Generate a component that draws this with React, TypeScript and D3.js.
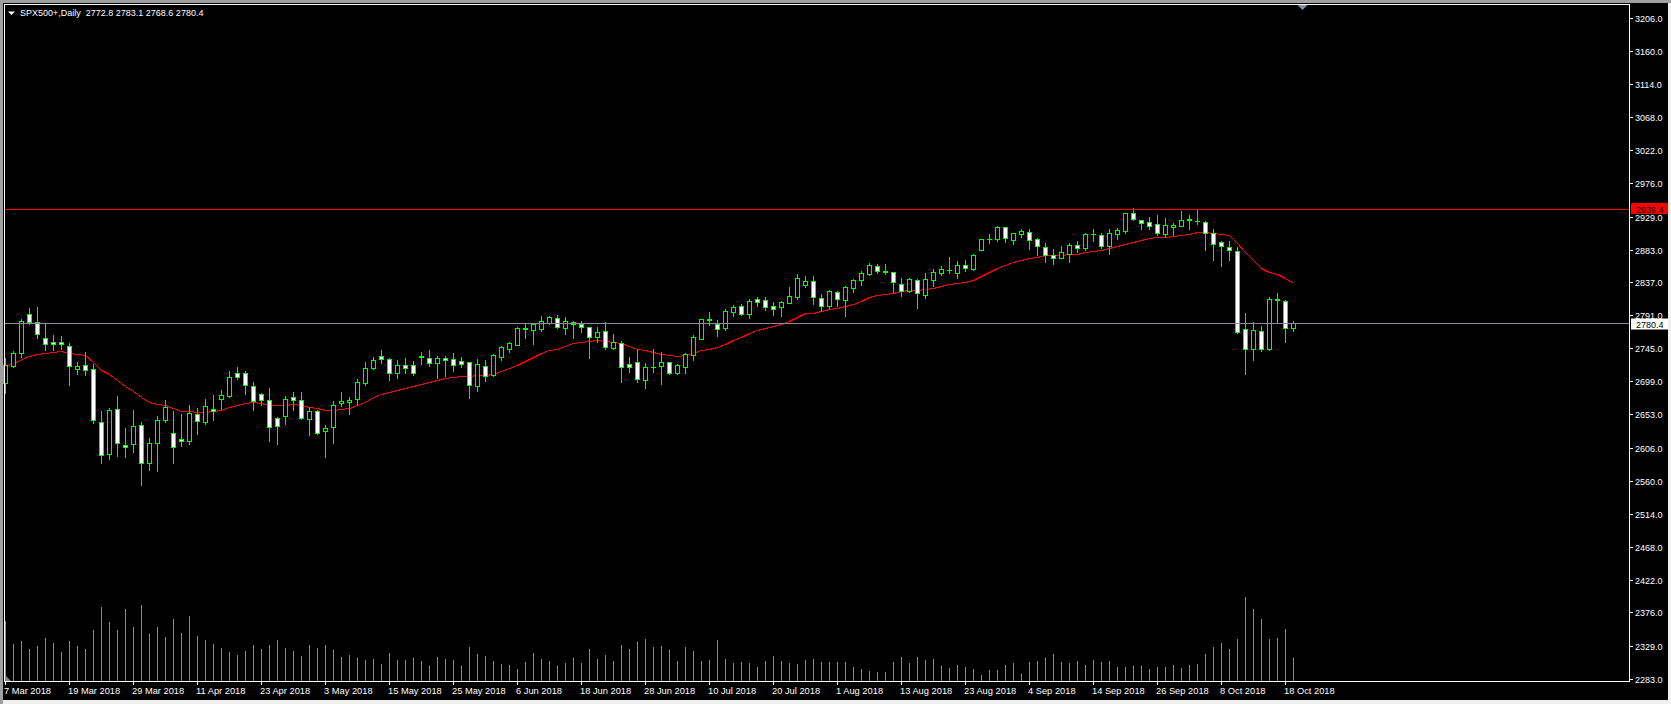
import * as d3 from "d3"

// SPX500+ daily bars, 7 Mar 2018 .. 19 Oct 2018 (one entry per trading day)
const opens = [
  2696.1, 2720.3, 2738.0, 2792.5, 2781.3, 2758.9, 2753.8, 2753.8, 2747.8, 2716.6,
  2721.2, 2715.6, 2641.6, 2596.9, 2659.7, 2609.9, 2610.8, 2637.4, 2584.3, 2612.2,
  2645.3, 2626.2, 2617.8, 2616.0, 2652.7, 2642.5, 2659.7, 2674.6, 2678.8, 2710.0,
  2710.0, 2692.8, 2680.7, 2672.3, 2647.2, 2650.9, 2676.5, 2672.3, 2646.7, 2657.0,
  2629.0, 2634.6, 2668.1, 2669.5, 2673.7, 2697.0, 2717.5, 2733.8, 2730.1, 2709.8,
  2721.2, 2721.2, 2734.0, 2731.0, 2724.9, 2731.0, 2729.6, 2726.8, 2725.4, 2692.3,
  2719.8, 2707.2, 2732.3, 2744.5, 2750.0, 2773.5, 2770.5, 2772.4, 2780.8, 2786.8,
  2773.8, 2781.7, 2778.4, 2774.3, 2760.8, 2768.7, 2745.9, 2751.9, 2723.0, 2725.4,
  2701.1, 2718.6, 2720.7, 2725.4, 2710.9, 2719.3, 2735.6, 2758.4, 2785.4, 2779.0,
  2773.8, 2795.7, 2803.6, 2793.4, 2813.4, 2811.8, 2803.8, 2802.7, 2808.7, 2817.1,
  2833.9, 2838.5, 2814.8, 2804.5, 2823.2, 2812.4, 2829.7, 2840.4, 2849.2, 2859.5,
  2852.5, 2851.1, 2834.3, 2825.0, 2839.9, 2819.9, 2840.4, 2850.6, 2854.0, 2850.6,
  2860.9, 2855.8, 2882.8, 2898.0, 2897.7, 2914.0, 2896.3, 2905.1, 2907.0, 2897.2,
  2886.0, 2875.8, 2871.6, 2877.2, 2888.8, 2885.1, 2904.4, 2903.3, 2888.4, 2905.1,
  2908.4, 2934.0, 2923.8, 2921.0, 2918.7, 2904.7, 2914.9, 2916.3, 2925.0, 2923.0,
  2921.0, 2905.6, 2893.0, 2886.1, 2880.5, 2771.5, 2744.5, 2768.7, 2744.0, 2813.4,
  2810.6, 2772.8,
]

const highs = [
  2731.0, 2741.2, 2785.5, 2800.8, 2803.2, 2779.0, 2763.1, 2762.2, 2752.0, 2725.4,
  2739.4, 2722.6, 2657.0, 2661.6, 2678.4, 2633.7, 2658.8, 2641.6, 2619.2, 2650.4,
  2672.3, 2657.4, 2653.2, 2665.8, 2661.6, 2674.2, 2679.8, 2686.7, 2713.3, 2718.9,
  2713.3, 2697.5, 2682.1, 2689.5, 2649.0, 2678.4, 2683.9, 2683.9, 2662.5, 2658.8,
  2637.4, 2671.4, 2683.9, 2677.0, 2702.1, 2725.9, 2732.4, 2742.6, 2731.7, 2728.7,
  2731.0, 2727.2, 2739.8, 2742.6, 2734.2, 2734.2, 2737.9, 2732.3, 2726.3, 2730.0,
  2728.2, 2737.0, 2748.6, 2753.8, 2774.7, 2779.0, 2780.3, 2790.6, 2790.1, 2791.5,
  2788.2, 2783.1, 2782.6, 2775.2, 2774.3, 2781.7, 2764.9, 2755.2, 2732.3, 2744.5,
  2724.0, 2744.0, 2739.8, 2726.3, 2722.6, 2737.9, 2764.0, 2785.9, 2795.7, 2785.0,
  2799.4, 2805.5, 2806.4, 2813.8, 2816.2, 2816.2, 2809.4, 2811.1, 2830.6, 2848.8,
  2846.0, 2846.0, 2820.8, 2826.4, 2824.6, 2832.0, 2842.3, 2853.4, 2864.1, 2862.3,
  2862.7, 2852.0, 2843.2, 2843.2, 2841.8, 2849.7, 2855.8, 2859.5, 2872.1, 2866.9,
  2867.9, 2876.7, 2897.2, 2904.7, 2915.8, 2914.0, 2905.6, 2911.2, 2911.2, 2899.1,
  2892.1, 2883.2, 2887.9, 2891.6, 2894.4, 2906.5, 2911.6, 2905.6, 2911.6, 2912.6,
  2934.0, 2941.0, 2923.8, 2928.4, 2931.2, 2926.6, 2919.6, 2937.3, 2931.2, 2939.0,
  2922.4, 2911.2, 2895.4, 2895.4, 2886.1, 2793.9, 2781.3, 2776.1, 2816.7, 2822.3,
  2812.5, 2783.1,
]

const lows = [
  2682.1, 2719.4, 2732.4, 2779.0, 2758.9, 2742.6, 2742.6, 2744.5, 2693.7, 2709.1,
  2707.7, 2640.2, 2585.2, 2590.8, 2594.5, 2592.7, 2600.6, 2553.8, 2574.5, 2573.6,
  2642.5, 2585.2, 2609.0, 2611.3, 2625.7, 2639.2, 2644.8, 2659.7, 2677.4, 2702.1,
  2681.6, 2658.8, 2665.8, 2615.5, 2611.8, 2638.8, 2658.3, 2646.7, 2623.9, 2625.7,
  2593.6, 2613.2, 2663.9, 2653.7, 2667.2, 2693.3, 2715.6, 2724.0, 2700.7, 2704.0,
  2710.0, 2707.7, 2723.0, 2720.2, 2703.0, 2706.3, 2713.7, 2719.3, 2675.5, 2685.3,
  2699.7, 2706.3, 2728.6, 2739.8, 2749.1, 2759.4, 2751.0, 2769.1, 2779.0, 2772.9,
  2765.4, 2759.4, 2767.3, 2731.9, 2753.3, 2743.5, 2744.0, 2698.3, 2712.3, 2698.3,
  2690.0, 2712.3, 2695.1, 2709.5, 2709.1, 2710.9, 2728.6, 2758.4, 2778.0, 2762.6,
  2771.0, 2790.6, 2792.0, 2787.8, 2804.5, 2798.7, 2792.0, 2790.6, 2807.8, 2813.4,
  2831.1, 2807.3, 2797.1, 2801.3, 2804.1, 2790.6, 2823.6, 2833.9, 2847.4, 2850.6,
  2848.8, 2823.6, 2818.5, 2823.6, 2801.7, 2815.7, 2832.0, 2847.4, 2850.6, 2843.2,
  2853.0, 2854.4, 2882.8, 2892.1, 2894.9, 2893.5, 2890.7, 2900.5, 2883.7, 2874.8,
  2865.5, 2863.2, 2871.1, 2865.5, 2880.0, 2882.8, 2894.9, 2885.6, 2876.7, 2898.1,
  2906.1, 2924.2, 2911.6, 2911.7, 2902.8, 2901.0, 2902.8, 2916.3, 2911.7, 2918.7,
  2882.3, 2868.4, 2860.0, 2868.4, 2766.8, 2709.1, 2728.7, 2741.2, 2742.6, 2779.9,
  2753.8, 2768.6,
]

const closes = [
  2721.7, 2738.0, 2783.1, 2782.2, 2764.5, 2750.5, 2750.5, 2750.5, 2719.8, 2719.8,
  2714.2, 2644.4, 2595.5, 2658.3, 2612.2, 2607.6, 2636.5, 2584.3, 2612.2, 2644.4,
  2663.0, 2606.7, 2615.0, 2654.1, 2643.0, 2664.4, 2657.9, 2679.3, 2704.4, 2705.4,
  2693.3, 2670.9, 2672.3, 2635.5, 2636.0, 2673.7, 2672.3, 2647.2, 2657.0, 2627.1,
  2633.2, 2665.3, 2671.4, 2672.8, 2697.5, 2717.0, 2728.7, 2729.6, 2709.8, 2721.2,
  2717.9, 2710.9, 2733.3, 2724.9, 2731.0, 2728.2, 2721.2, 2723.5, 2694.2, 2722.6,
  2706.7, 2735.1, 2746.3, 2751.9, 2772.9, 2772.6, 2779.0, 2782.6, 2788.2, 2775.2,
  2783.1, 2778.4, 2774.3, 2761.2, 2767.3, 2747.2, 2753.8, 2719.3, 2719.3, 2702.5,
  2718.4, 2718.2, 2725.4, 2710.9, 2721.2, 2736.5, 2760.3, 2785.4, 2785.0, 2772.4,
  2796.6, 2802.2, 2793.4, 2811.0, 2810.1, 2803.1, 2800.5, 2809.2, 2817.6, 2842.7,
  2839.0, 2817.1, 2804.5, 2825.0, 2813.4, 2830.1, 2840.4, 2849.7, 2860.9, 2852.5,
  2852.0, 2838.1, 2825.0, 2841.3, 2821.8, 2841.3, 2851.1, 2855.3, 2854.8, 2860.9,
  2856.7, 2874.8, 2897.2, 2898.3, 2914.0, 2898.6, 2905.6, 2908.8, 2896.7, 2888.4,
  2875.8, 2871.6, 2879.5, 2889.3, 2885.6, 2904.7, 2904.0, 2888.4, 2906.1, 2910.2,
  2934.0, 2926.1, 2920.5, 2916.3, 2906.5, 2917.3, 2917.3, 2924.2, 2924.6, 2923.5,
  2905.6, 2890.3, 2887.4, 2881.9, 2767.3, 2743.6, 2770.1, 2744.5, 2813.4, 2813.0,
  2772.9, 2780.4,
]

// moving average as drawn on the chart (red line)
const maValues = [
  2721.7, 2723.1, 2729.6, 2734.2, 2737.0, 2738.0, 2739.4, 2740.8, 2738.9, 2736.6,
  2735.6, 2726.3, 2714.7, 2708.6, 2700.7, 2692.3, 2685.8, 2677.4, 2670.4, 2666.7,
  2666.3, 2661.6, 2657.0, 2657.0, 2655.6, 2655.6, 2657.9, 2658.8, 2663.5, 2666.3,
  2669.0, 2669.5, 2669.0, 2666.3, 2666.3, 2666.3, 2666.7, 2665.8, 2663.5, 2661.1,
  2658.8, 2658.8, 2659.7, 2662.1, 2665.3, 2670.4, 2676.5, 2681.0, 2683.5, 2686.2,
  2689.0, 2692.3, 2695.1, 2697.9, 2700.7, 2704.0, 2705.3, 2706.3, 2706.3, 2707.2,
  2707.2, 2709.1, 2713.7, 2717.0, 2721.6, 2727.7, 2732.3, 2737.9, 2742.6, 2744.5,
  2748.6, 2751.9, 2753.3, 2754.7, 2756.1, 2755.2, 2754.2, 2752.4, 2748.6, 2744.5,
  2742.6, 2739.3, 2737.0, 2735.1, 2733.7, 2735.6, 2737.9, 2742.6, 2744.5, 2747.2,
  2751.4, 2756.6, 2760.3, 2765.9, 2770.5, 2773.0, 2776.0, 2778.9, 2783.6, 2789.2,
  2793.8, 2794.8, 2797.1, 2799.4, 2801.3, 2804.1, 2806.9, 2811.5, 2816.2, 2819.0,
  2821.3, 2822.7, 2824.6, 2826.4, 2826.4, 2827.8, 2829.7, 2832.0, 2834.3, 2835.7,
  2838.1, 2840.4, 2846.0, 2852.0, 2856.7, 2861.4, 2866.0, 2868.3, 2871.1, 2873.0,
  2874.8, 2874.8, 2875.8, 2876.7, 2876.7, 2879.5, 2881.4, 2882.3, 2885.1, 2887.4,
  2890.7, 2893.9, 2896.3, 2898.6, 2900.0, 2901.0, 2902.4, 2902.8, 2904.7, 2907.0,
  2907.5, 2905.6, 2904.2, 2902.8, 2891.7, 2879.5, 2868.4, 2856.7, 2852.1, 2848.3,
  2842.7, 2835.8,
]

// tick volume (relative units)
const volumes = [
  180, 111, 120, 96, 105, 129, 114, 87, 120, 105,
  96, 153, 222, 177, 153, 216, 162, 228, 141, 162,
  132, 186, 144, 195, 135, 123, 111, 99, 87, 78,
  90, 108, 96, 108, 123, 99, 90, 75, 108, 99,
  108, 93, 72, 78, 69, 63, 66, 51, 84, 63,
  63, 69, 60, 45, 72, 66, 63, 45, 102, 81,
  75, 60, 51, 48, 36, 57, 84, 66, 60, 45,
  54, 69, 54, 96, 66, 78, 60, 108, 96, 117,
  126, 102, 105, 93, 60, 102, 90, 60, 63, 123,
  66, 54, 57, 54, 42, 60, 75, 60, 54, 51,
  63, 66, 57, 57, 57, 57, 42, 36, 30, 27,
  27, 57, 72, 54, 72, 63, 66, 45, 39, 48,
  42, 36, 18, 33, 33, 48, 54, 21, 57, 60,
  69, 81, 57, 54, 60, 48, 63, 57, 60, 42,
  42, 45, 45, 36, 42, 42, 48, 39, 48, 51,
  81, 102, 114, 96, 126, 253, 216, 186, 126, 129,
  156, 69,
]

// one date label every 8 bars
const dateLabels = [
  "7 Mar 2018", "19 Mar 2018", "29 Mar 2018", "11 Apr 2018", "23 Apr 2018",
  "3 May 2018", "15 May 2018", "25 May 2018", "6 Jun 2018", "18 Jun 2018",
  "28 Jun 2018", "10 Jul 2018", "20 Jul 2018", "1 Aug 2018", "13 Aug 2018",
  "23 Aug 2018", "4 Sep 2018", "14 Sep 2018", "26 Sep 2018", "8 Oct 2018",
  "18 Oct 2018",
]

const priceTicks = [
  3206.0, 3160.0, 3114.0, 3068.0, 3022.0, 2976.0, 2929.0, 2883.0, 2837.0, 2791.0,
  2745.0, 2699.0, 2653.0, 2606.0, 2560.0, 2514.0, 2468.0, 2422.0, 2376.0, 2329.0,
  2283.0,
]

const RESISTANCE = 2939.4
const BID = 2780.4
const SYMBOL = "SPX500+,Daily"

const WIDTH = 1671
const HEIGHT = 704
const FRAME = { left: 4, top: 4, right: 1629, bottom: 681 }
const BAR_STEP = 8
const LABEL_STEP = 8
const LIME = "#00ff00"
const VOLUME_GREEN = "#32cd32"
const FONT = "'Liberation Sans', Arial, sans-serif"

export default function App() {
  const n = closes.length
  const x = d3
    .scaleLinear()
    .domain([0, n - 1])
    .range([5, 5 + BAR_STEP * (n - 1)])
  const y = d3.scaleLinear().domain([2283, 3206]).range([679, 18.3])
  const vol = d3
    .scaleLinear()
    .domain([0, 300])
    .range([FRAME.bottom, FRAME.bottom - 100])

  const py = (v: number) => Math.round(y(v))

  const maPath = d3
    .line<number>()
    .x((_, i) => x(i) + 0.5)
    .y((d) => py(d) + 0.5)(maValues)

  const fmt = d3.format(".1f")
  const header = `${SYMBOL}  ${fmt(opens[n - 1])} ${fmt(highs[n - 1])} ${fmt(
    lows[n - 1]
  )} ${fmt(closes[n - 1])}`

  const resY = py(RESISTANCE) + 0.5
  const bidY = py(BID) + 0.5

  return (
    <svg
      width={WIDTH}
      height={HEIGHT}
      style={{ position: "absolute", left: 0, top: 0, display: "block" }}
      fontFamily={FONT}
    >
      <rect width={WIDTH} height={HEIGHT} fill="#f0f0f0" />
      <rect x={0} y={0} width={WIDTH} height={3} fill="#a0a0a0" />
      <rect x={0} y={0} width={3} height={HEIGHT} fill="#a0a0a0" />
      <rect x={3} y={3} width={WIDTH - 6} height={HEIGHT - 7} fill="#000" />

      {/* volumes */}
      <g shapeRendering="crispEdges" stroke={VOLUME_GREEN}>
        {volumes.map((v, i) => (
          <line
            key={i}
            x1={x(i) + 0.5}
            x2={x(i) + 0.5}
            y1={FRAME.bottom}
            y2={Math.round(vol(v))}
          />
        ))}
      </g>

      {/* moving average */}
      <path
        d={maPath ?? ""}
        fill="none"
        stroke="#ff0000"
        strokeWidth={1}
        shapeRendering="crispEdges"
      />

      {/* candles */}
      <g shapeRendering="crispEdges">
        {closes.map((c, i) => {
          const o = opens[i]
          const cx = x(i)
          const yTop = py(Math.max(o, c))
          const yBot = py(Math.min(o, c))
          const bull = c >= o
          return (
            <g key={i}>
              <line
                x1={cx + 0.5}
                x2={cx + 0.5}
                y1={py(highs[i])}
                y2={py(lows[i]) + 1}
                stroke={LIME}
              />
              {yTop === yBot ? (
                <line
                  x1={cx - 2}
                  x2={cx + 3}
                  y1={yTop + 0.5}
                  y2={yTop + 0.5}
                  stroke={LIME}
                />
              ) : (
                <rect
                  x={cx - 1.5}
                  y={yTop + 0.5}
                  width={4}
                  height={yBot - yTop}
                  fill={bull ? "#000" : "#fff"}
                  stroke={LIME}
                />
              )}
            </g>
          )
        })}
      </g>

      {/* horizontal lines */}
      <g shapeRendering="crispEdges">
        <line
          x1={FRAME.left}
          x2={FRAME.right}
          y1={resY}
          y2={resY}
          stroke="#ff0000"
        />
        <line
          x1={FRAME.left}
          x2={FRAME.right}
          y1={bidY}
          y2={bidY}
          stroke="#8c8c94"
        />
      </g>

      {/* frame */}
      <rect
        x={FRAME.left + 0.5}
        y={FRAME.top + 0.5}
        width={FRAME.right - FRAME.left}
        height={FRAME.bottom - FRAME.top}
        fill="none"
        stroke="#fff"
        shapeRendering="crispEdges"
      />

      {/* price axis */}
      <g fontSize={9} fill="#fff">
        {priceTicks.map((t) => {
          const ty = py(t)
          return (
            <g key={t}>
              <line
                x1={FRAME.right + 1}
                x2={FRAME.right + 4}
                y1={ty + 0.5}
                y2={ty + 0.5}
                stroke="#fff"
                shapeRendering="crispEdges"
              />
              <text x={FRAME.right + 6} y={ty + 3.5}>
                {fmt(t)}
              </text>
            </g>
          )
        })}
      </g>

      {/* price labels for the two horizontal lines */}
      <g fontSize={9}>
        <rect x={1631} y={resY - 6.5} width={37} height={11} fill="#ff0000" />
        <text x={1636} y={resY + 3.5} fill="#000">
          {fmt(RESISTANCE)}
        </text>
        <rect x={1631} y={bidY - 5} width={37} height={11} fill="#fff" />
        <text x={1636} y={bidY + 4.5} fill="#000">
          {fmt(BID)}
        </text>
      </g>

      {/* date axis */}
      <g fontSize={9.3} fill="#fff">
        {dateLabels.map((label, k) => {
          const tx = x(k * LABEL_STEP)
          return (
            <g key={label}>
              <line
                x1={tx + 0.5}
                x2={tx + 0.5}
                y1={FRAME.bottom}
                y2={FRAME.bottom + 4}
                stroke="#fff"
                shapeRendering="crispEdges"
              />
              <text x={tx - 1} y={693.5}>
                {label}
              </text>
            </g>
          )
        })}
      </g>

      {/* header */}
      <polygon points="8,11.5 15,11.5 11.5,15" fill="#fff" />
      <text
        x={20}
        y={16}
        fontSize={9}
        fill="#fff"
        style={{ whiteSpace: "pre" }}
      >
        {header}
      </text>

      {/* chart shift markers */}
      <polygon points="1297.5,5 1307.5,5 1302.5,10" fill="#8091a8" />
      <polygon points="5,675 5,681 11,681" fill="#808890" />
    </svg>
  )
}
